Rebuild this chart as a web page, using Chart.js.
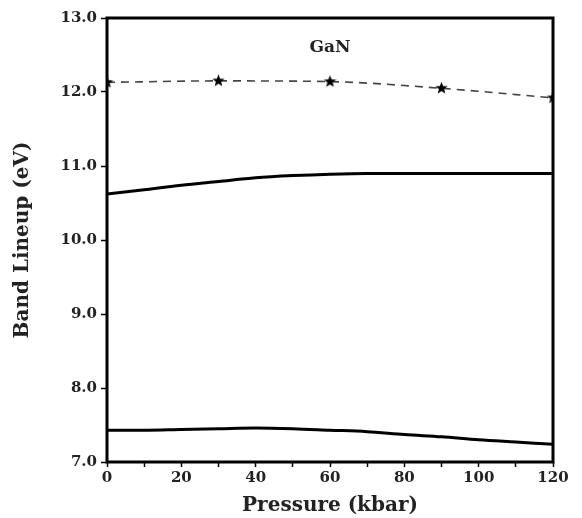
<!DOCTYPE html>
<html>
<head>
<meta charset="utf-8">
<script src="https://cdn.jsdelivr.net/npm/chart.js@4/dist/chart.umd.min.js"></script>
<style>
  html, body { margin: 0; padding: 0; background: #fff; }
  #wrap { width: 582px; height: 518px; }
</style>
</head>
<body>
<div id="wrap"><canvas id="bandChart"></canvas></div>
<script>
// pressure grid (kbar) and band energies (eV)
const pressure = [0, 10, 20, 30, 40, 50, 60, 70, 80, 90, 100, 110, 120];
const upperBand = [10.62, 10.68, 10.74, 10.79, 10.84, 10.87, 10.89, 10.90, 10.90, 10.90, 10.90, 10.90, 10.90];
const lowerBand = [7.43, 7.43, 7.44, 7.45, 7.46, 7.45, 7.43, 7.41, 7.37, 7.34, 7.30, 7.27, 7.24];

// computed points shown with stars
const starPressure = [0, 30, 60, 90, 120];
const starBand = [12.13, 12.15, 12.14, 12.05, 11.92];

const yTicks = [7, 8, 9, 10, 11, 12, 13];
const xLabels = [0, 20, 40, 60, 80, 100, 120];

const serif = '"DejaVu Serif", "Liberation Serif", serif';

// filled five point star for the markers
function makeStar(size) {
  const c = document.createElement('canvas');
  c.width = size; c.height = size;
  const g = c.getContext('2d');
  const cx = size / 2, cy = size / 2, ro = size / 2, ri = ro * 0.42;
  g.beginPath();
  for (let i = 0; i < 10; i++) {
    const r = i % 2 ? ri : ro;
    const a = -Math.PI / 2 + i * Math.PI / 5;
    g.lineTo(cx + r * Math.cos(a), cy + r * Math.sin(a));
  }
  g.closePath();
  g.fillStyle = '#000';
  g.fill();
  return c;
}
const star = makeStar(13);

const toPts = (xs, ys) => xs.map((x, i) => ({ x: x, y: ys[i] }));

// box round the plot plus the GaN label
const framePlugin = {
  id: 'frame',
  afterDraw(chart) {
    const { ctx, chartArea: a, scales } = chart;
    ctx.save();
    ctx.strokeStyle = '#000';
    ctx.lineWidth = 3;
    ctx.strokeRect(a.left, a.top, a.right - a.left, a.bottom - a.top);
    ctx.font = 'bold 17px ' + serif;
    ctx.fillStyle = '#222';
    ctx.textAlign = 'center';
    ctx.textBaseline = 'middle';
    ctx.fillText('GaN', scales.x.getPixelForValue(60), scales.y.getPixelForValue(12.6));
    ctx.restore();
  }
};

new Chart(document.getElementById('bandChart'), {
  type: 'line',
  data: {
    datasets: [
      {
        data: toPts(starPressure, starBand),
        borderColor: '#444',
        borderWidth: 1.6,
        borderDash: [8, 6],
        cubicInterpolationMode: 'monotone',
        pointStyle: star,
        pointRadius: 6
      },
      {
        data: toPts(pressure, upperBand),
        borderColor: '#000',
        borderWidth: 3,
        cubicInterpolationMode: 'monotone',
        pointRadius: 0
      },
      {
        data: toPts(pressure, lowerBand),
        borderColor: '#000',
        borderWidth: 3,
        cubicInterpolationMode: 'monotone',
        pointRadius: 0
      }
    ]
  },
  options: {
    animation: false,
    responsive: true,
    maintainAspectRatio: false,
    layout: { padding: { left: 0, right: 29, top: 18, bottom: 0 } },
    plugins: { legend: { display: false }, tooltip: { enabled: false } },
    scales: {
      x: {
        type: 'linear',
        min: 0,
        max: 120,
        afterFit(s) { s.height = 56; },
        border: { display: false },
        grid: { display: true, drawOnChartArea: false, tickLength: 5, tickColor: '#000', tickWidth: 1.5 },
        ticks: {
          stepSize: 10,
          padding: 2,
          maxRotation: 0,
          minRotation: 0,
          autoSkip: false,
          color: '#222',
          font: { family: serif, size: 15, weight: 'bold' },
          callback: v => xLabels.includes(v) ? String(v) : ''
        },
        title: {
          display: true,
          text: 'Pressure (kbar)',
          color: '#222',
          font: { family: serif, size: 20, weight: 'bold' },
          padding: { top: 1, bottom: 0 }
        }
      },
      y: {
        min: 7,
        max: 13,
        afterFit(s) { s.width = 107; },
        afterBuildTicks(s) { s.ticks = yTicks.map(v => ({ value: v })); },
        border: { display: false },
        grid: { display: true, drawOnChartArea: false, tickLength: 6, tickColor: '#000', tickWidth: 1.5 },
        ticks: {
          padding: 4,
          color: '#222',
          font: { family: serif, size: 15, weight: 'bold' },
          callback: v => v.toFixed(1)
        },
        title: {
          display: true,
          text: 'Band Lineup (eV)',
          color: '#222',
          font: { family: serif, size: 20, weight: 'bold' },
          padding: { top: 11, bottom: 0 }
        }
      }
    }
  },
  plugins: [framePlugin]
});
</script>
</body>
</html>
